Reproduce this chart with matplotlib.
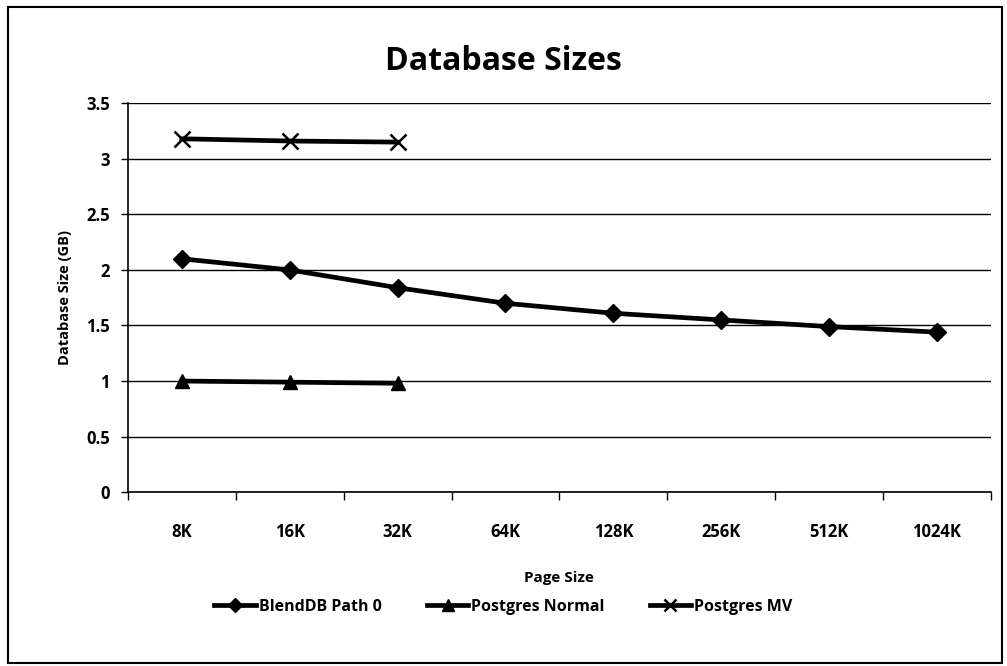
import matplotlib
matplotlib.use("Agg")
import matplotlib.pyplot as plt
from matplotlib.patches import Rectangle

categories = ["8K", "16K", "32K", "64K", "128K", "256K", "512K", "1024K"]
blenddb = [2.10, 2.00, 1.84, 1.70, 1.61, 1.55, 1.49, 1.44]
pg_normal = [1.00, 0.99, 0.98]
pg_mv = [3.18, 3.16, 3.15]
yticks = [0, 0.5, 1, 1.5, 2, 2.5, 3, 3.5]
ytick_labels = ["0", "0.5", "1", "1.5", "2", "2.5", "3", "3.5"]

plt.rcParams['font.family'] = ['Open Sans', 'DejaVu Sans']
plt.rcParams['font.weight'] = 'bold'

fig = plt.figure(figsize=(10.07, 6.66), dpi=100)
ax = fig.add_axes([0.127, 0.261, 0.857, 0.584])

x = list(range(len(categories)))
ax.plot(x, blenddb, color='black', lw=3.4, marker='D', ms=9, label='BlendDB Path 0', zorder=3)
ax.plot(x[:len(pg_normal)], pg_normal, color='black', lw=3.4, marker='^', ms=10, label='Postgres Normal', zorder=3)
ax.plot(x[:len(pg_mv)], pg_mv, color='black', lw=3.4, marker='x', ms=11, mew=1.8, label='Postgres MV', zorder=3)

ax.set_xlim(-0.5, len(categories) - 0.5)
ax.set_ylim(0, 3.5)
ax.set_yticks(yticks)
ax.set_yticklabels(ytick_labels, fontsize=12, fontweight='bold')
ax.set_xticks(x)
ax.set_xticklabels(categories, fontsize=12, fontweight='bold')
ax.set_xticks([i - 0.5 for i in range(len(categories) + 1)], minor=True)
ax.tick_params(axis='x', which='major', length=0, pad=22)
ax.tick_params(axis='x', which='minor', length=6, width=1, direction='out')
ax.tick_params(axis='y', length=5, width=1, direction='out', pad=8)
ax.yaxis.grid(True, color='black', lw=1)
ax.set_axisbelow(True)
for s in ['top', 'right']:
    ax.spines[s].set_visible(False)
ax.spines['left'].set_linewidth(1.2)
ax.spines['bottom'].set_linewidth(1.2)

ax.set_xlabel('Page Size', fontsize=11, fontweight='bold', labelpad=22)
ax.set_ylabel('Database Size (GB)', fontsize=10.5, fontweight='bold', labelpad=10)
fig.text(0.5, 0.907, 'Database Sizes', ha='center', va='center', fontsize=23, fontweight='bold')

leg = fig.legend(loc='center', bbox_to_anchor=(0.5, 0.089), ncol=3, frameon=False,
                 fontsize=11.5, handlelength=2.6, columnspacing=2.8, handletextpad=0.2,
                 markerscale=0.8)
for t in leg.get_texts():
    t.set_fontweight('bold')

fig.patches.append(Rectangle((0.008, 0.005), 0.987, 0.985, transform=fig.transFigure,
                             fill=False, edgecolor='black', lw=1.5))

fig.savefig('out.png', dpi=100)
